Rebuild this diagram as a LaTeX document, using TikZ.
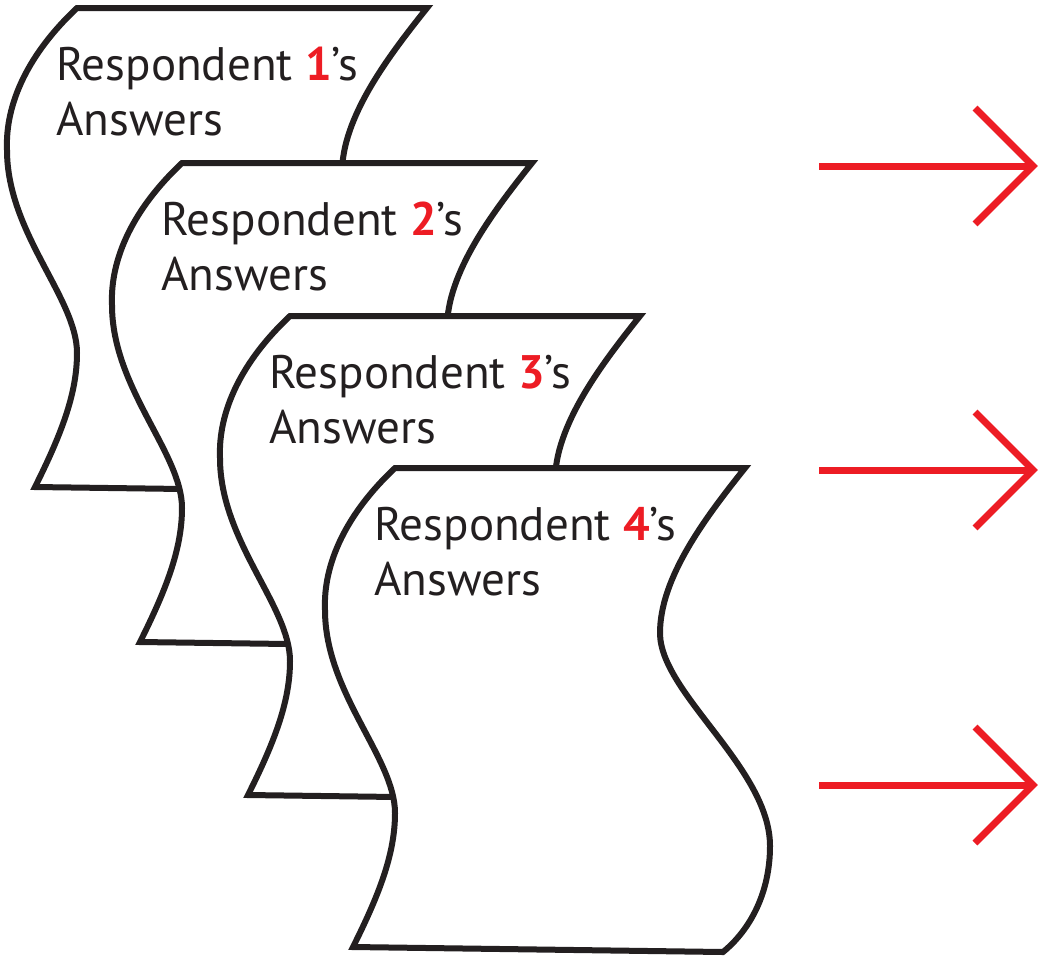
\documentclass[tikz,border=0pt]{standalone}
\usepackage{fontspec}
\setmainfont{PT Sans}
\definecolor{ared}{HTML}{ED1C24}
\definecolor{ink}{HTML}{231F20}
\newcommand\respdoc[3]{%
  \begin{scope}[shift={(#1,#2)}]
    \draw[docshape] (0,0) -- (350,0)
      .. controls (310,-50) and (265,-110) .. (265,-165)
      .. controls (265,-225) and (375,-300) .. (375,-378)
      .. controls (375,-425) and (355,-462) .. (328,-484)
      -- (-42,-479)
      .. controls (-15,-425) and (0,-385) .. (0,-345)
      .. controls (0,-290) and (-70,-225) .. (-70,-142)
      .. controls (-72,-95) and (-48,-45) .. (0,0)
      -- cycle;
    \node[doctext] (t#3) at (-21,-72) {Respondent \textcolor{ared}{\textbf{#3}}’s};
    \node[doctext] (a#3) at (-21,-127) {Answers};
  \end{scope}}
\begin{document}
\begin{tikzpicture}[x=1pt,y=1pt,
  docshape/.style={draw=ink, line width=6pt, fill=white, line join=miter},
  doctext/.style={anchor=base west, inner sep=0pt, text=ink, font=\fontsize{47}{55}\selectfont},
  redarrow/.style={draw=ared, line width=7pt, line join=miter}]
\useasboundingbox (0,0) rectangle (1043,-959);
\respdoc{77}{-8}{1}
\respdoc{182}{-163}{2}
\respdoc{290}{-316}{3}
\respdoc{395}{-468}{4}
\foreach \i/\y in {1/-166, 2/-470, 3/-785} {
  \coordinate (s\i) at (819,\y);
  \coordinate (e\i) at (1033,\y);
  \draw[redarrow] (s\i) -- (e\i);
  \draw[redarrow] ([shift={(-58,58)}]e\i) -- (e\i) -- ([shift={(-58,-58)}]e\i);
}
\end{tikzpicture}
\end{document}
